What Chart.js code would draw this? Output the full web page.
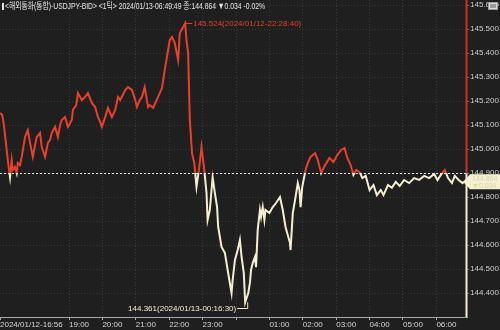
<!DOCTYPE html>
<html>
<head>
<meta charset="utf-8">
<script src="https://cdn.jsdelivr.net/npm/chart.js@4/dist/chart.umd.min.js"></script>
<style>
html,body{margin:0;padding:0;background:#1f1f1f;}
#wrap{position:relative;width:500px;height:330px;}
</style>
</head>
<body>
<div id="wrap"><canvas id="c" width="500" height="330"></canvas></div>
<script>
// minutes elapsed since 2024/01/12 16:56
const minutes = [0,4,7,12,14,18,21,23,27,30,32,36,39,45,50,54,59,63,66,72,75,81,86,90,93,99,104,108,111,117,122,129,131,137,140,147,153,158,165,171,176,180,183,189,194,201,207,212,216,225,230,237,243,246,251,255,260,266,269,275,280,284,291,296,302,305,309,314,320,323,332.7,335,338,341,345,349,353,358,362,367,371,373,377,382,386,390,392,398,404,409,416,418,422,427,431,434,438,440.5,446,449,451,454,458,460,463,467,469,472,475,477,484,490,496,503,508,513,521,522,526,531,535,538,540,543,549,553,558,566,571,577,584,592,599,606,613,619,624,630,635,640,646,651,657,664,671,677,684,689,697,704,711,718,726,735,744,753,762,771,780,786,792,799,805,812,817,824,831,833.8];
const prices = [145.150,145.142,145.100,144.996,144.954,144.883,144.954,144.913,144.925,144.900,144.942,144.933,144.967,145.050,145.079,145.025,144.967,145.017,145.050,145.067,145.008,144.967,145.025,145.038,145.067,145.092,145.050,145.100,145.121,145.133,145.092,145.121,145.163,145.183,145.233,145.204,145.217,145.233,145.192,145.175,145.133,145.113,145.092,145.133,145.171,145.133,145.163,145.217,145.204,145.246,145.258,145.246,145.204,145.175,145.204,145.217,145.258,145.175,145.183,145.171,145.196,145.217,145.254,145.329,145.413,145.454,145.467,145.442,145.371,145.483,145.524,145.454,145.400,145.121,144.983,144.942,144.842,144.925,145.008,144.913,144.817,144.704,144.746,144.883,144.817,144.758,144.675,144.592,144.567,144.496,144.400,144.454,144.537,144.579,144.621,144.550,144.483,144.361,144.400,144.442,144.496,144.525,144.550,144.508,144.663,144.746,144.717,144.758,144.704,144.746,144.733,144.758,144.775,144.800,144.746,144.675,144.608,144.579,144.733,144.800,144.858,144.829,144.758,144.842,144.913,144.942,144.967,144.983,144.954,144.900,144.933,144.963,144.946,144.975,144.996,145.004,144.963,144.933,144.892,144.913,144.904,144.879,144.888,144.829,144.850,144.808,144.829,144.808,144.850,144.838,144.863,144.846,144.871,144.858,144.879,144.871,144.888,144.879,144.896,144.871,144.892,144.913,144.879,144.858,144.888,144.871,144.858,144.864];
const xTickValues = [0,124,184,244,304,364,424,484,544,604,664,724,784];
const xTickLabels = ['2024/01/12-16:56','19:00','20:00','21:00','22:00','23:00','','01:00','02:00','03:00','04:00','05:00','06:00'];
const yTickValues = [144.4,144.5,144.6,144.7,144.8,144.9,145.0,145.1,145.2,145.3,145.4,145.5,145.6];
const prevClose = 144.898;
const lastPrice = 144.864;
const highPoint = {t:332.7, v:145.524, label:'145.524(2024/01/12-22:28:40)'};
const lowPoint = {t:440.5, v:144.361, label:'144.361(2024/01/13-00:16:30)'};
const headerText = '<해외통화(통합)-USDJPY-BID> <1틱> 2024/01/13-06:49:49 종:144.864 ▼0.034 -0.02%';

const RED = '#e8412b';
const CREAM = '#f4efd2';
const FONT = '"Liberation Sans Narrow","Liberation Sans","Noto Sans CJK KR",sans-serif';

function splitGradient(ctx){
  const chart = ctx.chart;
  const ca = chart.chartArea;
  if(!ca) return RED;
  const py = chart.scales.y.getPixelForValue(prevClose);
  let t = (py - ca.top)/(ca.bottom - ca.top);
  t = Math.max(0, Math.min(1, t));
  const g = chart.ctx.createLinearGradient(0, ca.top, 0, ca.bottom);
  g.addColorStop(0, RED); g.addColorStop(t, RED);
  g.addColorStop(t, CREAM); g.addColorStop(1, CREAM);
  return g;
}

const overlay = {
  id:'overlay',
  beforeDatasetsDraw(chart){
    const {ctx, chartArea:ca, scales} = chart;
    const py = Math.round(scales.y.getPixelForValue(prevClose)) + 0.5;
    ctx.save();
    ctx.strokeStyle = '#e8e8e8';
    ctx.lineWidth = 1;
    ctx.setLineDash([2,2]);
    ctx.beginPath(); ctx.moveTo(ca.left, py); ctx.lineTo(ca.right, py); ctx.stroke();
    ctx.restore();
  },
  afterDatasetsDraw(chart){
    const {ctx, chartArea:ca, scales} = chart;
    const x = scales.x, y = scales.y;
    ctx.save();
    // right price line
    const py = y.getPixelForValue(prevClose);
    ctx.lineWidth = 2;
    ctx.strokeStyle = '#c8321f';
    ctx.beginPath(); ctx.moveTo(ca.right - 0.5, ca.top); ctx.lineTo(ca.right - 0.5, py); ctx.stroke();
    ctx.strokeStyle = CREAM;
    ctx.beginPath(); ctx.moveTo(ca.right - 0.5, py); ctx.lineTo(ca.right - 0.5, ca.bottom); ctx.stroke();
    // high annotation
    ctx.lineWidth = 1;
    ctx.font = '8px ' + FONT;
    ctx.textBaseline = 'middle';
    const hx = x.getPixelForValue(highPoint.t), hy = y.getPixelForValue(highPoint.v);
    ctx.strokeStyle = RED; ctx.fillStyle = RED;
    ctx.beginPath(); ctx.moveTo(hx, Math.round(hy)+0.5); ctx.lineTo(hx + 7, Math.round(hy)+0.5); ctx.stroke();
    ctx.textAlign = 'left';
    ctx.fillText(highPoint.label, hx + 8, hy + 0.5);
    // low annotation
    const lx = x.getPixelForValue(lowPoint.t), ly = y.getPixelForValue(lowPoint.v);
    const ty = Math.round(ly) + 6.5;
    ctx.strokeStyle = CREAM; ctx.fillStyle = CREAM;
    ctx.beginPath(); ctx.moveTo(lx + 2.5, ly); ctx.lineTo(lx + 2.5, ty); ctx.lineTo(lx - 8, ty); ctx.stroke();
    ctx.textAlign = 'right';
    ctx.fillText(lowPoint.label, lx - 9, ty);
    // header
    ctx.textAlign = 'left';
    ctx.fillStyle = '#e6e6e6';
    ctx.fillRect(2, 3, 2, 7);
    ctx.font = '9px ' + FONT;
    ctx.fillText(headerText, 5, 7, 260);
    // top-right icon
    ctx.fillStyle = '#9a9a9a';
    ctx.fillRect(488, 2, 10, 8);
    ctx.strokeStyle = '#dddddd';
    ctx.strokeRect(489.5, 3.5, 7, 5);
    // current price tag
    const cy = y.getPixelForValue(lastPrice);
    ctx.fillStyle = '#f3efcf';
    ctx.beginPath();
    ctx.moveTo(ca.right - 4, cy);
    ctx.lineTo(ca.right + 3, cy - 7.5);
    ctx.lineTo(500, cy - 7.5);
    ctx.lineTo(500, cy + 7.5);
    ctx.lineTo(ca.right + 3, cy + 7.5);
    ctx.closePath(); ctx.fill();
    ctx.fillStyle = '#d9d4b0';
    ctx.font = '7px ' + FONT;
    ctx.textAlign = 'left';
    ctx.fillText('144.864', ca.right + 5, cy - 3);
    ctx.fillText('▼0.034', ca.right + 5, cy + 4);
    ctx.restore();
  }
};

new Chart(document.getElementById('c'), {
  type:'line',
  data:{
    datasets:[{
      data: minutes.map((m,i)=>({x:m, y:prices[i]})),
      borderColor: splitGradient,
      borderWidth: 2,
      pointRadius: 0,
      tension: 0,
      fill: false
    }]
  },
  options:{
    responsive:false,
    animation:false,
    events:[],
    layout:{padding:0},
    plugins:{legend:{display:false}, tooltip:{enabled:false}},
    scales:{
      x:{
        type:'linear', min:0, max:839,
        afterBuildTicks(s){ s.ticks = xTickValues.map(v=>({value:v})); },
        afterFit(s){ s.height = 13; s.paddingLeft = 0; s.paddingRight = 0; },
        ticks:{
          autoSkip:false, maxRotation:0, align:'start', padding:0,
          color:'#d6d6d6', font:{family:FONT, size:8},
          callback(v, i){ return xTickLabels[i]; }
        },
        grid:{
          color:(c)=> c.index === 0 ? 'rgba(0,0,0,0)' : '#3a3a3a',
          tickLength:3, tickColor:'#a8a8a8', drawOnChartArea:true
        },
        border:{display:true, color:'#a8a8a8', width:1, dash:[1,2]}
      },
      y:{
        type:'linear', position:'right', min:144.3, max:145.621,
        afterBuildTicks(s){ s.ticks = yTickValues.map(v=>({value:v})); },
        afterFit(s){ s.width = 33; s.paddingTop = 0; s.paddingBottom = 0; },
        ticks:{
          padding:1, color:'#cfcfcf', font:{family:FONT, size:8},
          callback(v){ return v.toFixed(3); }
        },
        grid:{color:'#3a3a3a', tickLength:2, tickColor:'#777'},
        border:{display:false, dash:[1,2]}
      }
    }
  },
  plugins:[overlay]
});
</script>
</body>
</html>
